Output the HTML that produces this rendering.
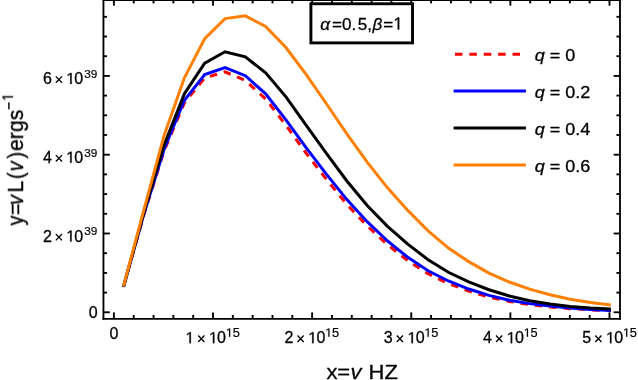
<!DOCTYPE html>
<html><head><meta charset="utf-8"><title>plot</title>
<style>
html,body{margin:0;padding:0;background:#fff;}
body{width:638px;height:380px;overflow:hidden;font-family:"Liberation Sans",sans-serif;}
svg{display:block;}
</style></head>
<body>
<svg width="638" height="380" viewBox="0 0 638 380">
<rect x="0" y="0" width="638" height="380" fill="#fff"/>
<polyline points="123.50,286.85 143.81,214.99 164.11,150.78 184.42,102.66 204.72,77.96 225.03,71.90 245.34,80.42 265.64,99.00 285.95,125.30 306.25,153.37 326.56,179.53 346.87,204.47 367.17,225.87 387.48,244.67 407.78,260.65 428.09,273.71 448.40,283.56 468.70,291.12 489.01,297.08 509.31,301.44 529.62,304.61 549.93,306.89 570.23,308.67 590.54,309.85 610.84,310.75" fill="none" stroke="#ff0000" stroke-width="3.0" stroke-linejoin="miter" stroke-linecap="butt" stroke-dasharray="7.5 6.9" stroke-dashoffset="-1.2"/>
<polyline points="123.50,286.86 143.81,214.20 164.11,149.19 184.42,100.27 204.72,74.47 225.03,67.60 245.34,75.72 265.64,93.90 285.95,119.80 306.25,147.87 326.56,174.33 346.87,199.57 367.17,221.68 387.48,240.98 407.78,257.36 428.09,270.72 448.40,280.97 468.70,289.04 489.01,295.40 509.31,300.16 529.62,303.62 549.93,306.10 570.23,308.08 590.54,309.46 610.84,310.45" fill="none" stroke="#0000ff" stroke-width="3.0" stroke-linejoin="miter" stroke-linecap="butt" />
<polyline points="123.50,286.75 143.81,212.74 164.11,144.91 184.42,93.69 204.72,63.09 225.03,51.80 245.34,56.92 265.64,72.79 285.95,96.89 306.25,125.49 326.56,153.56 346.87,181.01 367.17,205.57 387.48,226.41 407.78,244.20 428.09,259.68 448.40,272.23 468.70,281.88 489.01,289.75 509.31,296.01 529.62,300.76 549.93,304.02 570.23,306.39 590.54,307.96 610.84,308.94" fill="none" stroke="#000000" stroke-width="3.0" stroke-linejoin="miter" stroke-linecap="butt" />
<polyline points="123.50,286.41 143.81,210.22 164.11,135.48 184.42,77.85 204.72,38.63 225.03,18.62 245.34,15.81 265.64,26.47 285.95,47.48 306.25,74.59 326.56,103.98 346.87,133.96 367.17,162.10 387.48,187.82 407.78,210.42 428.09,230.92 448.40,248.05 468.70,261.61 489.01,273.06 509.31,282.01 529.62,289.16 549.93,294.72 570.23,299.18 590.54,302.44 610.84,305.03" fill="none" stroke="#ff8000" stroke-width="3.0" stroke-linejoin="miter" stroke-linecap="butt" />
<g stroke="#000" fill="none">
<line x1="103.45" y1="-1.0" x2="103.45" y2="319.79999999999995" stroke-width="1.85"/>
<line x1="620.0" y1="-1.0" x2="620.0" y2="319.79999999999995" stroke-width="1.85"/>
<line x1="102.525" y1="318.9" x2="620.925" y2="318.9" stroke-width="1.8"/>
<line x1="102.525" y1="0.0" x2="620.925" y2="0.0" stroke-width="2.2"/>
<line x1="113.90" y1="318.9" x2="113.90" y2="312.4" stroke-width="1.9"/>
<line x1="113.90" y1="0.0" x2="113.90" y2="5.7" stroke-width="1.9"/>
<line x1="133.72" y1="318.9" x2="133.72" y2="315.0" stroke-width="1.9"/>
<line x1="133.72" y1="0.0" x2="133.72" y2="3.4" stroke-width="1.9"/>
<line x1="153.55" y1="318.9" x2="153.55" y2="315.0" stroke-width="1.9"/>
<line x1="153.55" y1="0.0" x2="153.55" y2="3.4" stroke-width="1.9"/>
<line x1="173.37" y1="318.9" x2="173.37" y2="315.0" stroke-width="1.9"/>
<line x1="173.37" y1="0.0" x2="173.37" y2="3.4" stroke-width="1.9"/>
<line x1="193.20" y1="318.9" x2="193.20" y2="315.0" stroke-width="1.9"/>
<line x1="193.20" y1="0.0" x2="193.20" y2="3.4" stroke-width="1.9"/>
<line x1="213.02" y1="318.9" x2="213.02" y2="312.4" stroke-width="1.9"/>
<line x1="213.02" y1="0.0" x2="213.02" y2="5.7" stroke-width="1.9"/>
<line x1="232.84" y1="318.9" x2="232.84" y2="315.0" stroke-width="1.9"/>
<line x1="232.84" y1="0.0" x2="232.84" y2="3.4" stroke-width="1.9"/>
<line x1="252.67" y1="318.9" x2="252.67" y2="315.0" stroke-width="1.9"/>
<line x1="252.67" y1="0.0" x2="252.67" y2="3.4" stroke-width="1.9"/>
<line x1="272.49" y1="318.9" x2="272.49" y2="315.0" stroke-width="1.9"/>
<line x1="272.49" y1="0.0" x2="272.49" y2="3.4" stroke-width="1.9"/>
<line x1="292.32" y1="318.9" x2="292.32" y2="315.0" stroke-width="1.9"/>
<line x1="292.32" y1="0.0" x2="292.32" y2="3.4" stroke-width="1.9"/>
<line x1="312.14" y1="318.9" x2="312.14" y2="312.4" stroke-width="1.9"/>
<line x1="312.14" y1="0.0" x2="312.14" y2="5.7" stroke-width="1.9"/>
<line x1="331.96" y1="318.9" x2="331.96" y2="315.0" stroke-width="1.9"/>
<line x1="331.96" y1="0.0" x2="331.96" y2="3.4" stroke-width="1.9"/>
<line x1="351.79" y1="318.9" x2="351.79" y2="315.0" stroke-width="1.9"/>
<line x1="351.79" y1="0.0" x2="351.79" y2="3.4" stroke-width="1.9"/>
<line x1="371.61" y1="318.9" x2="371.61" y2="315.0" stroke-width="1.9"/>
<line x1="371.61" y1="0.0" x2="371.61" y2="3.4" stroke-width="1.9"/>
<line x1="391.44" y1="318.9" x2="391.44" y2="315.0" stroke-width="1.9"/>
<line x1="391.44" y1="0.0" x2="391.44" y2="3.4" stroke-width="1.9"/>
<line x1="411.26" y1="318.9" x2="411.26" y2="312.4" stroke-width="1.9"/>
<line x1="411.26" y1="0.0" x2="411.26" y2="5.7" stroke-width="1.9"/>
<line x1="431.08" y1="318.9" x2="431.08" y2="315.0" stroke-width="1.9"/>
<line x1="431.08" y1="0.0" x2="431.08" y2="3.4" stroke-width="1.9"/>
<line x1="450.91" y1="318.9" x2="450.91" y2="315.0" stroke-width="1.9"/>
<line x1="450.91" y1="0.0" x2="450.91" y2="3.4" stroke-width="1.9"/>
<line x1="470.73" y1="318.9" x2="470.73" y2="315.0" stroke-width="1.9"/>
<line x1="470.73" y1="0.0" x2="470.73" y2="3.4" stroke-width="1.9"/>
<line x1="490.56" y1="318.9" x2="490.56" y2="315.0" stroke-width="1.9"/>
<line x1="490.56" y1="0.0" x2="490.56" y2="3.4" stroke-width="1.9"/>
<line x1="510.38" y1="318.9" x2="510.38" y2="312.4" stroke-width="1.9"/>
<line x1="510.38" y1="0.0" x2="510.38" y2="5.7" stroke-width="1.9"/>
<line x1="530.20" y1="318.9" x2="530.20" y2="315.0" stroke-width="1.9"/>
<line x1="530.20" y1="0.0" x2="530.20" y2="3.4" stroke-width="1.9"/>
<line x1="550.03" y1="318.9" x2="550.03" y2="315.0" stroke-width="1.9"/>
<line x1="550.03" y1="0.0" x2="550.03" y2="3.4" stroke-width="1.9"/>
<line x1="569.85" y1="318.9" x2="569.85" y2="315.0" stroke-width="1.9"/>
<line x1="569.85" y1="0.0" x2="569.85" y2="3.4" stroke-width="1.9"/>
<line x1="589.68" y1="318.9" x2="589.68" y2="315.0" stroke-width="1.9"/>
<line x1="589.68" y1="0.0" x2="589.68" y2="3.4" stroke-width="1.9"/>
<line x1="609.50" y1="318.9" x2="609.50" y2="312.4" stroke-width="1.9"/>
<line x1="609.50" y1="0.0" x2="609.50" y2="5.7" stroke-width="1.9"/>
<line x1="103.45" y1="312.30" x2="109.85000000000001" y2="312.30" stroke-width="1.85"/>
<line x1="620.0" y1="312.30" x2="613.6" y2="312.30" stroke-width="1.85"/>
<line x1="103.45" y1="292.60" x2="107.05" y2="292.60" stroke-width="1.85"/>
<line x1="620.0" y1="292.60" x2="616.4" y2="292.60" stroke-width="1.85"/>
<line x1="103.45" y1="272.90" x2="107.05" y2="272.90" stroke-width="1.85"/>
<line x1="620.0" y1="272.90" x2="616.4" y2="272.90" stroke-width="1.85"/>
<line x1="103.45" y1="253.20" x2="107.05" y2="253.20" stroke-width="1.85"/>
<line x1="620.0" y1="253.20" x2="616.4" y2="253.20" stroke-width="1.85"/>
<line x1="103.45" y1="233.50" x2="109.85000000000001" y2="233.50" stroke-width="1.85"/>
<line x1="620.0" y1="233.50" x2="613.6" y2="233.50" stroke-width="1.85"/>
<line x1="103.45" y1="213.80" x2="107.05" y2="213.80" stroke-width="1.85"/>
<line x1="620.0" y1="213.80" x2="616.4" y2="213.80" stroke-width="1.85"/>
<line x1="103.45" y1="194.10" x2="107.05" y2="194.10" stroke-width="1.85"/>
<line x1="620.0" y1="194.10" x2="616.4" y2="194.10" stroke-width="1.85"/>
<line x1="103.45" y1="174.40" x2="107.05" y2="174.40" stroke-width="1.85"/>
<line x1="620.0" y1="174.40" x2="616.4" y2="174.40" stroke-width="1.85"/>
<line x1="103.45" y1="154.70" x2="109.85000000000001" y2="154.70" stroke-width="1.85"/>
<line x1="620.0" y1="154.70" x2="613.6" y2="154.70" stroke-width="1.85"/>
<line x1="103.45" y1="135.00" x2="107.05" y2="135.00" stroke-width="1.85"/>
<line x1="620.0" y1="135.00" x2="616.4" y2="135.00" stroke-width="1.85"/>
<line x1="103.45" y1="115.30" x2="107.05" y2="115.30" stroke-width="1.85"/>
<line x1="620.0" y1="115.30" x2="616.4" y2="115.30" stroke-width="1.85"/>
<line x1="103.45" y1="95.60" x2="107.05" y2="95.60" stroke-width="1.85"/>
<line x1="620.0" y1="95.60" x2="616.4" y2="95.60" stroke-width="1.85"/>
<line x1="103.45" y1="75.90" x2="109.85000000000001" y2="75.90" stroke-width="1.85"/>
<line x1="620.0" y1="75.90" x2="613.6" y2="75.90" stroke-width="1.85"/>
<line x1="103.45" y1="56.20" x2="107.05" y2="56.20" stroke-width="1.85"/>
<line x1="620.0" y1="56.20" x2="616.4" y2="56.20" stroke-width="1.85"/>
<line x1="103.45" y1="36.50" x2="107.05" y2="36.50" stroke-width="1.85"/>
<line x1="620.0" y1="36.50" x2="616.4" y2="36.50" stroke-width="1.85"/>
<line x1="103.45" y1="16.80" x2="107.05" y2="16.80" stroke-width="1.85"/>
<line x1="620.0" y1="16.80" x2="616.4" y2="16.80" stroke-width="1.85"/>
</g>
<rect x="310.9" y="3.75" width="101.6" height="39.15" fill="#fff" stroke="#000" stroke-width="2.9"/>
<g fill="#000" stroke="#000" stroke-width="0.3" stroke-linejoin="round" opacity="0.999" font-family="'Liberation Sans', sans-serif">
<text transform="translate(114.00,339.30) scale(1.0,1)" font-size="16.0" text-anchor="middle" >0</text>
<path d="M515 0V1237L197 1010V1180L530 1409H696V0Z" transform="translate(185.40,343.20) scale(0.00781,-0.00781)" fill="#000" stroke-width="38.4"/>
<path d="M198.22 335.55L204.42 341.95M198.22 341.95L204.42 335.55" stroke="#000" stroke-width="1.35" fill="none"/>
<path d="M515 0V1237L197 1010V1180L530 1409H696V0Z" transform="translate(208.90,343.20) scale(0.00781,-0.00781)" fill="#000" stroke-width="38.4"/>
<text transform="translate(217.12,343.20) scale(1.0,1)" font-size="16.0" text-anchor="start" >0</text>
<path d="M515 0V1237L197 1010V1180L530 1409H696V0Z" transform="translate(225.83,336.80) scale(0.00625,-0.00596)" fill="#000" stroke-width="33.6"/>
<text transform="translate(232.64,336.80) scale(1.05,1)" font-size="12.2" text-anchor="start" stroke-width="0.2">5</text>
<text transform="translate(284.39,343.20) scale(1.0,1)" font-size="16.0" text-anchor="start" >2</text>
<path d="M297.49 335.55L303.69 341.95M297.49 341.95L303.69 335.55" stroke="#000" stroke-width="1.35" fill="none"/>
<path d="M515 0V1237L197 1010V1180L530 1409H696V0Z" transform="translate(308.17,343.20) scale(0.00781,-0.00781)" fill="#000" stroke-width="38.4"/>
<text transform="translate(316.39,343.20) scale(1.0,1)" font-size="16.0" text-anchor="start" >0</text>
<path d="M515 0V1237L197 1010V1180L530 1409H696V0Z" transform="translate(325.10,336.80) scale(0.00625,-0.00596)" fill="#000" stroke-width="33.6"/>
<text transform="translate(331.91,336.80) scale(1.05,1)" font-size="12.2" text-anchor="start" stroke-width="0.2">5</text>
<text transform="translate(383.66,343.20) scale(1.0,1)" font-size="16.0" text-anchor="start" >3</text>
<path d="M396.76 335.55L402.96 341.95M396.76 341.95L402.96 335.55" stroke="#000" stroke-width="1.35" fill="none"/>
<path d="M515 0V1237L197 1010V1180L530 1409H696V0Z" transform="translate(407.44,343.20) scale(0.00781,-0.00781)" fill="#000" stroke-width="38.4"/>
<text transform="translate(415.66,343.20) scale(1.0,1)" font-size="16.0" text-anchor="start" >0</text>
<path d="M515 0V1237L197 1010V1180L530 1409H696V0Z" transform="translate(424.37,336.80) scale(0.00625,-0.00596)" fill="#000" stroke-width="33.6"/>
<text transform="translate(431.18,336.80) scale(1.05,1)" font-size="12.2" text-anchor="start" stroke-width="0.2">5</text>
<text transform="translate(482.93,343.20) scale(1.0,1)" font-size="16.0" text-anchor="start" >4</text>
<path d="M496.03 335.55L502.23 341.95M496.03 341.95L502.23 335.55" stroke="#000" stroke-width="1.35" fill="none"/>
<path d="M515 0V1237L197 1010V1180L530 1409H696V0Z" transform="translate(506.71,343.20) scale(0.00781,-0.00781)" fill="#000" stroke-width="38.4"/>
<text transform="translate(514.93,343.20) scale(1.0,1)" font-size="16.0" text-anchor="start" >0</text>
<path d="M515 0V1237L197 1010V1180L530 1409H696V0Z" transform="translate(523.64,336.80) scale(0.00625,-0.00596)" fill="#000" stroke-width="33.6"/>
<text transform="translate(530.45,336.80) scale(1.05,1)" font-size="12.2" text-anchor="start" stroke-width="0.2">5</text>
<text transform="translate(582.20,343.20) scale(1.0,1)" font-size="16.0" text-anchor="start" >5</text>
<path d="M595.30 335.55L601.50 341.95M595.30 341.95L601.50 335.55" stroke="#000" stroke-width="1.35" fill="none"/>
<path d="M515 0V1237L197 1010V1180L530 1409H696V0Z" transform="translate(605.98,343.20) scale(0.00781,-0.00781)" fill="#000" stroke-width="38.4"/>
<text transform="translate(614.20,343.20) scale(1.0,1)" font-size="16.0" text-anchor="start" >0</text>
<path d="M515 0V1237L197 1010V1180L530 1409H696V0Z" transform="translate(622.91,336.80) scale(0.00625,-0.00596)" fill="#000" stroke-width="33.6"/>
<text transform="translate(629.72,336.80) scale(1.05,1)" font-size="12.2" text-anchor="start" stroke-width="0.2">5</text>
<text transform="translate(97.70,318.40) scale(1.0,1)" font-size="16.0" text-anchor="end" >0</text>
<text transform="translate(42.90,241.60) scale(1.0,1)" font-size="16.0" text-anchor="start" >2</text>
<path d="M55.80 233.95L62.00 240.35M55.80 240.35L62.00 233.95" stroke="#000" stroke-width="1.35" fill="none"/>
<path d="M515 0V1237L197 1010V1180L530 1409H696V0Z" transform="translate(66.18,241.60) scale(0.00781,-0.00781)" fill="#000" stroke-width="38.4"/>
<text transform="translate(74.20,241.60) scale(1.0,1)" font-size="16.0" text-anchor="start" >0</text>
<text transform="translate(84.20,235.30) scale(1.0,1)" font-size="11.8" text-anchor="start" stroke-width="0.2">3</text>
<text transform="translate(90.76,235.30) scale(1.0,1)" font-size="11.8" text-anchor="start" stroke-width="0.2">9</text>
<text transform="translate(42.90,162.80) scale(1.0,1)" font-size="16.0" text-anchor="start" >4</text>
<path d="M55.80 155.15L62.00 161.55M55.80 161.55L62.00 155.15" stroke="#000" stroke-width="1.35" fill="none"/>
<path d="M515 0V1237L197 1010V1180L530 1409H696V0Z" transform="translate(66.18,162.80) scale(0.00781,-0.00781)" fill="#000" stroke-width="38.4"/>
<text transform="translate(74.20,162.80) scale(1.0,1)" font-size="16.0" text-anchor="start" >0</text>
<text transform="translate(84.20,156.50) scale(1.0,1)" font-size="11.8" text-anchor="start" stroke-width="0.2">3</text>
<text transform="translate(90.76,156.50) scale(1.0,1)" font-size="11.8" text-anchor="start" stroke-width="0.2">9</text>
<text transform="translate(42.90,84.00) scale(1.0,1)" font-size="16.0" text-anchor="start" >6</text>
<path d="M55.80 76.35L62.00 82.75M55.80 82.75L62.00 76.35" stroke="#000" stroke-width="1.35" fill="none"/>
<path d="M515 0V1237L197 1010V1180L530 1409H696V0Z" transform="translate(66.18,84.00) scale(0.00781,-0.00781)" fill="#000" stroke-width="38.4"/>
<text transform="translate(74.20,84.00) scale(1.0,1)" font-size="16.0" text-anchor="start" >0</text>
<text transform="translate(84.20,77.70) scale(1.0,1)" font-size="11.8" text-anchor="start" stroke-width="0.2">3</text>
<text transform="translate(90.76,77.70) scale(1.0,1)" font-size="11.8" text-anchor="start" stroke-width="0.2">9</text>
<text transform="translate(326.6,378.7) scale(1.11,1)" font-size="19.8">x</text>
<text transform="translate(337.2,378.7) scale(1.11,1)" font-size="19.8">=</text>
<text transform="translate(350.4,378.7) scale(1.11,1)" font-size="19.8" font-style="italic">v</text>
<text transform="translate(368.6,378.7) scale(1.11,1)" font-size="19.8">HZ</text>
<g transform="translate(22.5,225.5) scale(1.12,1) rotate(-90)">
<text transform="translate(0,0) scale(1.0,1)" font-size="19.8">y</text>
<text transform="translate(10.4,0) scale(1.0,1)" font-size="19.8">=</text>
<text transform="translate(20.6,0) scale(1.0,1)" font-size="19.8" font-style="italic">v</text>
<text transform="translate(33.1,0) scale(1.07,1)" font-size="19.8">L</text>
<text transform="translate(46.5,0) scale(1.0,1)" font-size="19.8">(</text>
<text transform="translate(54.2,0) scale(1.0,1)" font-size="19.8" font-style="italic">v</text>
<text transform="translate(67.1,0) scale(1.0,1)" font-size="19.8">)</text>
<text transform="translate(74.6,0) scale(1.07,1)" font-size="19.8">ergs</text>
<text transform="translate(115.85,-7.9) scale(1.0,1)" font-size="13.6">−</text>
<path d="M515 0V1237L197 1010V1180L530 1409H696V0Z" transform="translate(124.63,-8.50) scale(0.00664,-0.00664)" fill="#000" stroke-width="45.2"/>
</g>
<text transform="translate(320.3,29.5) scale(0.99,1)" font-size="17.3" font-style="italic">α</text>
<text transform="translate(331.9,29.5) scale(0.99,1)" font-size="17.3">=0.</text>
<text transform="translate(357.8,29.5) scale(0.99,1)" font-size="17.3">5,</text>
<text transform="translate(372.5,29.5) scale(0.99,1)" font-size="17.3" font-style="italic">β</text>
<text transform="translate(383.3,29.5) scale(0.99,1)" font-size="17.3">=</text>
<path d="M515 0V1237L197 1010V1180L530 1409H696V0Z" transform="translate(393.41,29.50) scale(0.00836,-0.00845)" fill="#000" stroke-width="35.5"/>
<line x1="454.95" y1="54.35" x2="525.9" y2="54.35" stroke="#ff0000" stroke-width="3.0" stroke-dasharray="7.5 6.9"/>
<text transform="translate(534.7,61.15) scale(1.1,1)" font-size="16.4"><tspan font-style="italic">q</tspan> = 0</text>
<line x1="453.6" y1="91.1" x2="525.9" y2="91.1" stroke="#0000ff" stroke-width="3.0"/>
<text transform="translate(534.7,97.90) scale(1.1,1)" font-size="16.4"><tspan font-style="italic">q</tspan> = 0.2</text>
<line x1="453.6" y1="128.0" x2="525.9" y2="128.0" stroke="#000" stroke-width="3.0"/>
<text transform="translate(534.7,134.80) scale(1.1,1)" font-size="16.4"><tspan font-style="italic">q</tspan> = 0.4</text>
<line x1="453.6" y1="164.9" x2="525.9" y2="164.9" stroke="#ff8000" stroke-width="3.0"/>
<text transform="translate(534.7,171.70) scale(1.1,1)" font-size="16.4"><tspan font-style="italic">q</tspan> = 0.6</text>
</g>
</svg>
</body></html>
